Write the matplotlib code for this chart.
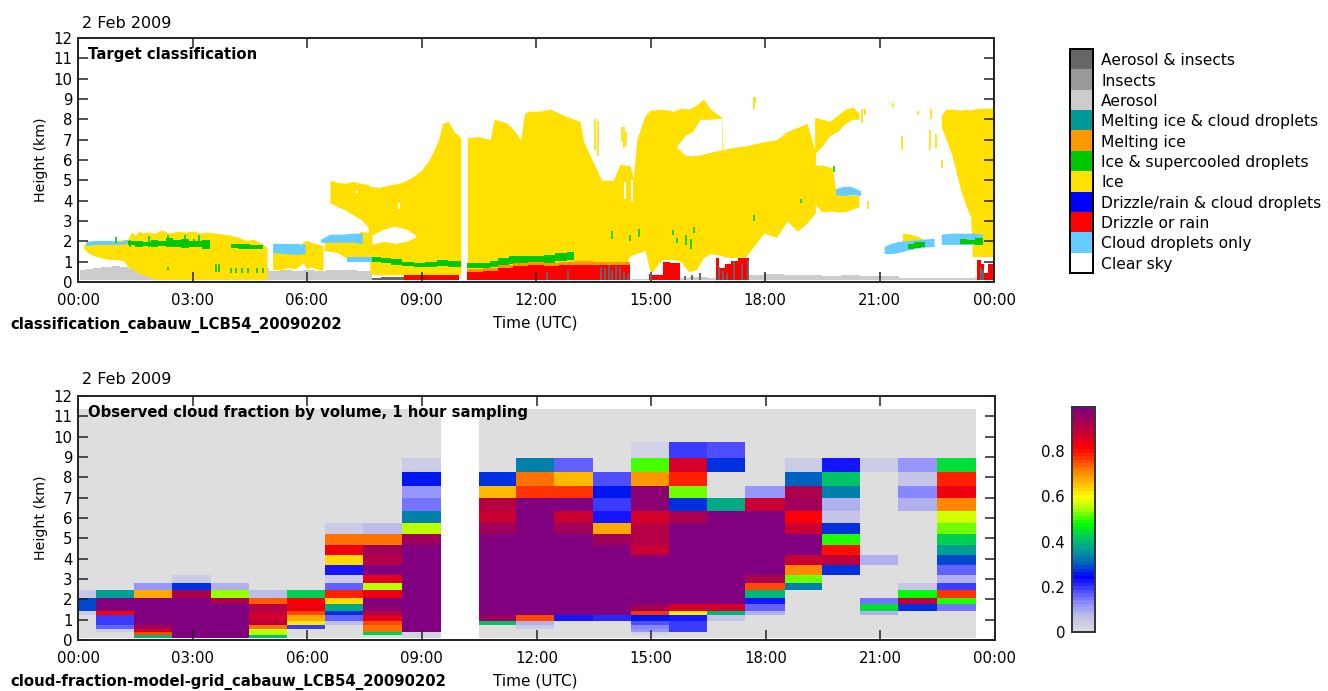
import numpy as np
import matplotlib
matplotlib.use('Agg')
import matplotlib.pyplot as plt
from matplotlib.colors import LinearSegmentedColormap, ListedColormap

plt.rcParams['font.family'] = ['DejaVu Sans']
plt.rcParams['font.size'] = 10.7

# ---- target classification, legend top to bottom
class_names = ['Aerosol & insects', 'Insects', 'Aerosol', 'Melting ice & cloud droplets',
               'Melting ice', 'Ice & supercooled droplets', 'Ice',
               'Drizzle/rain & cloud droplets', 'Drizzle or rain', 'Cloud droplets only', 'Clear sky']
class_colors = ['#666666', '#999999', '#cccccc', '#009999', '#ff9900', '#00c800', '#ffe000',
                '#0000ff', '#ff0000', '#66ccff', '#ffffff']
GREY_D, GREY_L, ORANGE, GREEN, ICE, RED, DROP = ('#666666', '#cccccc', '#ff9900', '#00c800',
                                                 '#ffe000', '#ff0000', '#66ccff')

aero1_t = [0.05, 0.2, 0.4, 0.6, 0.9, 1.1, 1.3, 5.0, 5.3, 5.6, 5.9, 6.2, 6.5, 6.9, 7.3, 7.7]
aero1_hi = [0.6, 0.65, 0.7, 0.75, 0.8, 0.75, 0.7, 0.55, 0.6, 0.55, 0.6, 0.55, 0.6, 0.6, 0.55, 0.5]
aero2_t = [14.5, 15.2, 15.6, 16.0, 16.5, 17.0, 17.5, 18.0, 18.5, 19.0, 19.5, 20.0, 20.5, 21.0, 21.5, 22.5, 23.5, 24.0]
aero2_hi = [0.15, 0.2, 0.2, 0.25, 0.2, 0.3, 0.35, 0.38, 0.33, 0.32, 0.3, 0.32, 0.28, 0.3, 0.2, 0.22, 0.25, 0.25]

ice_a_t = [0.15, 0.25, 0.4, 0.6, 0.8, 1.0, 1.2, 1.3, 1.4, 1.5, 1.6, 1.7, 1.8, 2.0, 2.2, 2.4, 2.6, 2.8, 3.0, 3.2, 3.4, 3.6, 3.8, 4.0, 4.2, 4.4, 4.6, 4.8, 4.95]
ice_a_lo = [1.65, 1.45, 1.3, 1.2, 1.1, 1.1, 1.05, 0.75, 0.7, 0.5, 0.45, 0.35, 0.3, 0.15, 0.12, 0.12, 0.12, 0.12, 0.12, 0.12, 0.12, 0.12, 0.12, 0.12, 0.12, 0.12, 0.12, 0.12, 0.12]
ice_a_hi = [1.85, 1.9, 1.95, 1.9, 1.95, 2.0, 2.1, 2.1, 2.45, 2.3, 2.5, 2.4, 2.45, 2.4, 2.55, 2.4, 2.5, 2.45, 2.5, 2.4, 2.45, 2.4, 2.35, 2.3, 2.2, 2.05, 2.1, 1.9, 1.7]
ice_b_t = [5.1, 5.3, 5.5, 5.7, 5.9, 6.0, 6.1, 6.3, 6.42]
ice_b_lo = [0.6, 0.6, 0.7, 0.65, 0.95, 0.65, 0.75, 0.6, 0.6]
ice_b_hi = [1.5, 1.45, 1.4, 1.35, 2.0, 2.05, 1.95, 1.85, 1.8]
ice_c_t = [6.45, 6.6, 6.8, 7.0, 7.2, 7.4, 7.65]
ice_c_lo = [1.55, 1.5, 1.45, 1.2, 1.25, 1.25, 1.25]
ice_c_hi = [2.05, 2.1, 2.0, 1.95, 2.1, 2.5, 2.4]
main1_t = [6.6, 6.8, 7.0, 7.2, 7.4, 7.6, 7.65, 7.9, 8.1, 8.4, 8.6, 8.8, 9.0, 9.2, 9.3, 9.45, 9.55, 9.7, 9.85, 10.03]
main1_lo = [3.9, 3.7, 3.55, 3.3, 3.1, 2.7, 0.4, 0.35, 0.35, 0.35, 0.35, 0.35, 0.35, 0.35, 0.35, 0.35, 0.35, 0.35, 0.35, 0.35]
main1_hi = [5.0, 4.9, 4.85, 4.95, 4.85, 4.8, 4.7, 4.65, 4.75, 4.85, 5.0, 5.2, 5.5, 6.0, 6.4, 7.0, 7.8, 7.9, 7.4, 7.1]
main2_t = [10.2, 10.5, 10.8, 10.9, 11.1, 11.25, 11.45, 11.6, 11.7, 11.84, 12.1, 12.37, 12.72, 13.0, 13.15, 13.25, 13.42, 13.72, 14.03, 14.2, 14.47, 14.55, 14.64, 14.86, 15.0, 15.3, 15.6, 15.8, 16.0, 16.2, 16.39, 16.57, 16.87, 16.9, 17.1, 17.5, 17.97, 18.3, 18.58, 18.85, 19.1, 19.32]
main2_hi = [7.1, 7.15, 7.0, 8.0, 7.9, 7.8, 7.4, 7.0, 8.3, 8.4, 8.4, 8.5, 8.2, 8.0, 7.9, 6.9, 6.2, 5.0, 5.0, 5.8, 5.7, 5.1, 7.0, 8.2, 8.45, 8.5, 8.4, 8.55, 8.5, 8.7, 9.0, 8.5, 8.1, 6.5, 6.6, 6.7, 6.9, 7.0, 7.4, 7.6, 7.8, 6.4]
main2_lo = [0.4, 0.4, 0.4, 0.4, 0.4, 0.4, 0.4, 0.4, 0.4, 0.4, 0.4, 0.4, 0.4, 0.4, 0.4, 0.4, 0.4, 0.4, 0.4, 0.4, 1.3, 1.35, 1.4, 1.55, 0.4, 1.1, 1.1, 1.0, 0.5, 0.6, 1.2, 1.4, 1.3, 1.25, 1.2, 1.25, 2.4, 2.2, 3.0, 2.5, 2.9, 3.4]
cavity_t = [15.7, 15.9, 16.1, 16.3, 16.5, 16.87]
cavity_lo = [6.6, 6.25, 6.2, 6.25, 6.35, 6.5]
cavity_hi = [6.7, 7.2, 7.4, 8.0, 8.0, 8.05]
hollow_t = [7.7, 8.0, 8.3, 8.6, 8.85]
hollow_lo = [1.85, 2.0, 1.9, 2.0, 2.2]
hollow_hi = [2.3, 2.6, 2.75, 2.6, 2.3]
arm_t = [19.3, 19.5, 19.7, 19.9, 20.1, 20.3, 20.46]
arm_lo = [6.3, 6.7, 7.2, 7.4, 7.8, 8.0, 8.0]
arm_hi = [8.1, 8.0, 7.9, 8.2, 8.5, 8.6, 8.3]
east_t = [19.32, 19.5, 19.77, 19.85, 20.1, 20.46]
east_lo = [3.8, 3.45, 3.5, 3.45, 3.45, 3.7]
east_hi = [5.75, 5.75, 5.6, 4.5, 4.3, 4.25]
last_t = [22.62, 22.75, 22.9, 23.13, 23.3, 23.39, 23.43, 23.75, 24.0]
last_lo = [7.6, 7.0, 6.2, 4.5, 3.6, 3.2, 1.25, 1.25, 1.25]
last_hi = [8.2, 8.5, 8.5, 8.45, 8.5, 8.45, 8.5, 8.55, 8.55]
ice_d_t = [21.6, 21.8, 22.0, 22.25]
ice_d_lo = [1.9, 1.9, 1.9, 2.0]
ice_d_hi = [2.4, 2.35, 2.25, 2.0]

# cloud droplets only
drop_a_t = [0.2, 0.5, 0.8, 1.1, 1.3]
drop_a_lo = [1.8, 1.85, 1.85, 1.85, 1.9]
drop_a_hi = [2.0, 2.05, 2.05, 2.0, 2.1]
drop_b_t = [5.1, 5.4, 5.7, 5.95]
drop_b_lo = [1.45, 1.4, 1.35, 1.4]
drop_b_hi = [1.9, 1.9, 1.9, 1.85]
drop_c_t = [6.35, 6.6, 6.9, 7.2, 7.4, 7.45]
drop_c_lo = [1.95, 1.95, 1.95, 1.95, 1.9, 1.9]
drop_c_hi = [2.1, 2.35, 2.35, 2.4, 2.4, 2.4]
drop_d_t = [7.05, 7.3, 7.7, 7.75]
drop_d_lo = [1.0, 1.0, 1.0, 1.0]
drop_d_hi = [1.25, 1.25, 1.25, 1.25]
drop_e_t = [19.85, 20.05, 20.25, 20.5]
drop_e_lo = [4.3, 4.25, 4.3, 4.25]
drop_e_hi = [4.6, 4.7, 4.7, 4.5]
drop_f_t = [21.12, 21.3, 21.5, 21.8, 22.1, 22.43]
drop_f_lo = [1.4, 1.4, 1.45, 1.6, 1.7, 1.75]
drop_f_hi = [1.75, 1.9, 2.0, 2.05, 2.1, 2.15]
drop_g_t = [22.62, 22.9, 23.2, 23.5, 23.7]
drop_g_lo = [1.85, 1.85, 1.85, 1.85, 1.85]
drop_g_hi = [2.35, 2.4, 2.4, 2.4, 2.35]

# ice & supercooled droplets
green_a_t = [1.3, 1.5, 1.7, 1.9, 2.1, 2.3, 2.5, 2.7, 2.9, 3.1, 3.25, 3.45, 4.0, 4.2, 4.5, 4.85]
green_a_lo = [1.8, 1.7, 1.75, 1.7, 1.75, 1.7, 1.7, 1.65, 1.7, 1.7, 1.6, 1.7, 1.65, 1.6, 1.6, 1.6]
green_a_hi = [2.0, 2.0, 1.95, 2.05, 2.0, 2.15, 2.05, 2.1, 2.0, 2.0, 2.05, 1.7, 1.85, 1.85, 1.8, 1.6]
green_b_t = [7.7, 7.95, 8.2, 8.5, 8.8, 9.1, 9.4, 9.7, 10.03]
green_b_lo = [1.0, 0.95, 0.85, 0.8, 0.75, 0.75, 0.8, 0.75, 0.7]
green_b_hi = [1.25, 1.2, 1.15, 1.0, 0.95, 1.0, 1.1, 1.05, 1.0]
green_c_t = [10.2, 10.5, 10.8, 11.0, 11.3, 11.6, 11.9, 12.2, 12.5, 12.8, 13.0]
green_c_lo = [0.7, 0.7, 0.75, 0.85, 0.9, 0.95, 0.95, 0.95, 1.05, 1.1, 1.1]
green_c_hi = [0.95, 0.95, 1.05, 1.2, 1.3, 1.3, 1.3, 1.35, 1.45, 1.5, 1.5]
green_d_t = [21.75, 21.9, 22.1, 22.2]
green_d_lo = [1.6, 1.65, 1.7, 1.7]
green_d_hi = [1.85, 1.95, 1.95, 1.9]
green_e_t = [23.1, 23.3, 23.5, 23.72]
green_e_lo = [1.85, 1.85, 1.8, 1.8]
green_e_hi = [2.1, 2.05, 2.15, 2.1]
green_streak_t = [1.35, 1.85, 2.35, 2.8, 3.05, 3.18, 3.7, 3.62, 2.35, 1.0, 4.0, 4.15, 4.3, 4.45, 4.7, 4.85, 14.0, 14.45, 14.7, 15.6, 15.7, 15.93, 16.05, 16.13, 17.7, 18.95, 19.8]
green_streak_lo = [1.7, 1.7, 1.7, 1.7, 1.7, 1.75, 0.5, 0.5, 0.6, 1.9, 0.45, 0.45, 0.45, 0.45, 0.45, 0.45, 2.1, 2.0, 2.2, 2.3, 1.9, 1.8, 1.6, 2.4, 3.0, 3.9, 5.4]
green_streak_hi = [2.05, 2.25, 2.3, 2.3, 2.1, 2.3, 0.9, 0.9, 0.75, 2.2, 0.7, 0.7, 0.7, 0.7, 0.7, 0.7, 2.5, 2.3, 2.6, 2.55, 2.15, 2.3, 2.1, 2.7, 3.3, 4.1, 5.7]

# drizzle or rain, melting ice above it
red_a_t = [8.55, 9.0, 9.4, 9.98]
red_a_hi = [0.33, 0.35, 0.33, 0.35]
red_b_t = [10.2, 10.6, 11.0, 11.4, 11.8, 12.2, 12.6, 13.0, 13.5, 14.0, 14.47]
red_b_hi = [0.5, 0.55, 0.7, 0.8, 0.85, 0.8, 0.85, 0.85, 0.85, 0.85, 0.85]
red_c_t = [14.95, 15.05, 15.34, 15.5, 15.78]
red_c_hi = [0.4, 0.35, 1.0, 0.95, 1.1]
red_d_t = [16.72, 16.8, 16.95, 17.1, 17.3, 17.58]
red_d_hi = [1.2, 0.7, 0.9, 1.05, 1.2, 1.2]
red_e_t = [23.55, 23.65, 23.75, 23.85, 24.0]
red_e_hi = [1.1, 0.9, 0.45, 0.9, 1.2]
orange_t = [10.2, 10.6, 11.0, 11.4, 11.8, 12.2, 12.6, 13.0, 13.5, 14.0, 14.47]
orange_hi = [0.65, 0.7, 0.85, 0.95, 1.0, 0.95, 1.0, 1.05, 1.0, 1.0, 1.0]
dark_t = [7.7, 7.95, 8.55]
dark_hi = [0.22, 0.25, 0.25]
dark_streak_t = [12.3, 12.85, 13.7, 13.8, 13.9, 14.0, 14.1, 14.2, 14.3, 14.4, 15.0, 15.9, 16.1, 16.3, 16.8, 16.9, 17.0, 17.2, 17.4, 17.55, 23.65, 23.7]
dark_streak_hi = [0.5, 0.6, 0.75, 0.7, 0.85, 0.6, 0.8, 0.75, 0.5, 0.4, 0.5, 0.3, 0.35, 0.45, 0.75, 0.55, 0.45, 1.05, 0.9, 1.1, 0.75, 0.6]

ice_streak_t = [13.05, 13.18, 13.55, 13.63, 14.25, 14.3, 14.35, 21.6, 22.32, 22.35, 22.48, 21.35, 22.0, 22.65, 20.55, 20.62, 17.7, 17.75, 20.7]
ice_streak_lo = [5.9, 6.2, 6.5, 6.2, 6.9, 6.6, 6.7, 6.5, 6.5, 8.0, 6.6, 8.6, 8.2, 5.6, 7.8, 8.2, 8.5, 8.8, 3.6]
ice_streak_hi = [7.8, 7.3, 8.0, 7.9, 7.6, 7.6, 7.4, 7.2, 7.5, 8.5, 7.3, 8.8, 8.4, 6.0, 8.5, 8.5, 9.1, 9.1, 4.0]
hole_t = [8.4, 14.32, 14.52, 7.3]
hole_lo = [3.6, 4.1, 4.0, 4.4]
hole_hi = [3.9, 4.9, 5.0, 4.5]

# observed cloud fraction by volume, one list per column, bottom row first
height_edges = [0.11, 0.25, 0.39, 0.52, 0.72, 0.93, 1.21, 1.42, 1.75, 2.05, 2.45, 2.81, 3.22,
                3.68, 4.17, 4.66, 5.22, 5.76, 6.33, 6.96, 7.56, 8.27, 8.95, 9.72, 10.55, 11.37]
time_edges = [0, 0.47, 1.47, 2.47, 3.47, 4.47, 5.47, 6.47, 7.47, 8.47, 9.5, 10.5, 11.47, 12.47,
              13.47, 14.47, 15.47, 16.47, 17.47, 18.5, 19.47, 20.47, 21.47, 22.47, 23.5]
P = 0.99
col00 = [0, 0, 0, 0, 0, 0, .04, .29, .29, .05]
col01 = [0, 0, .04, .17, .2, .2, .82, P, P, .37]
col02 = [.4, .76, .86, .95, P, P, P, P, P, .68, .12]
col03 = [P, P, P, P, P, P, P, P, P, .93, .28, .04]
col04 = [P, P, P, P, P, P, P, P, .93, .54, .09]
col05 = [.42, .55, .55, .72, .92, .87, .9, .92, .74, .07]
col06 = [0, 0, 0, .2, .62, .68, .75, .84, .82, .43]
col07 = [0, 0, 0, 0, .07, .17, .27, .38, .64, .79, .17, .04, .22, .63, .84, .72, .04]
col08 = [0, .43, .72, .72, .75, .85, .92, .97, P, .83, .55, .85, P, .92, .95, .72, .07]
col09 = [.03, .03, P, P, P, P, P, P, P, P, P, P, P, P, P, .95, .56, .34, .15, .12, .26, .04]
col10 = [np.nan] * 25
col11 = [0, 0, 0, 0, .41, .95, P, P, P, P, P, P, P, P, P, P, .95, .88, .92, .66, .28]
col12 = [0, 0, 0, .04, .09, .76, P, P, P, P, P, P, P, P, P, P, P, P, P, .78, .72, .34]
col13 = [0, 0, 0, 0, 0, .22, P, P, P, P, P, P, P, P, P, P, .94, .88, P, .77, .66, .17]
col14 = [0, 0, 0, 0, 0, .21, P, P, P, P, P, P, P, P, P, .94, .68, .22, .2, .25, .18]
col15 = [0, .03, .12, .14, .18, .26, .78, .95, P, P, P, P, P, P, .88, .92, .92, .87, .97, .97, .69, .5, .03]
col16 = [0, 0, .2, .19, .19, .22, .61, .87, P, P, P, P, P, P, P, P, P, .93, .27, .52, .79, .87, .2]
col17 = [0, 0, 0, 0, 0, .06, .4, .87, P, P, P, P, P, P, P, P, P, P, .38, 0, 0, .28, .18]
col18 = [0, 0, 0, 0, 0, 0, .09, .17, .22, .4, .75, .93, P, P, P, P, P, P, .89, .12]
col19 = [0, 0, 0, 0, 0, 0, 0, 0, 0, 0, .34, .52, .71, .88, P, P, .88, .82, .95, .93, .31, .04]
col20 = [0, 0, 0, 0, 0, 0, 0, 0, 0, 0, 0, 0, .28, .9, .8, .49, .28, .06, .09, .34, .42, .23]
col21 = [0, 0, 0, 0, 0, 0, .09, .44, .15, 0, 0, 0, 0, .08, 0, 0, 0, 0, 0, 0, 0, .04]
col22 = [0, 0, 0, 0, 0, 0, 0, .28, .9, .47, .06, 0, 0, 0, 0, 0, 0, 0, .09, .13, .06, .11]
col23 = [0, 0, 0, 0, 0, 0, 0, .15, .49, .77, .19, .09, .16, .29, .37, .43, .52, .57, .71, .83, .79, .45]
columns = [col00, col01, col02, col03, col04, col05, col06, col07, col08, col09, col10, col11,
           col12, col13, col14, col15, col16, col17, col18, col19, col20, col21, col22, col23]

hour_ticks = [0, 3, 6, 9, 12, 15, 18, 21, 24]
hour_labels = ['00:00', '03:00', '06:00', '09:00', '12:00', '15:00', '18:00', '21:00', '00:00']
km_ticks = list(range(0, 13))
cbar_ticks = [0, 0.2, 0.4, 0.6, 0.8]
cbar_labels = ['0', '0.2', '0.4', '0.6', '0.8']

stops = [(0, '#d8d8e2'), (.06, '#c0c0e8'), (.12, '#8f8fff'), (.2, '#3030ff'), (.24, '#0000ff'),
         (.3, '#0060c0'), (.36, '#009a98'), (.42, '#00c860'), (.48, '#00ff00'), (.55, '#b0ff00'),
         (.6, '#ffff00'), (.66, '#ffc000'), (.72, '#ff8000'), (.78, '#ff3000'), (.82, '#ff0000'),
         (.88, '#d00030'), (.94, '#a80050'), (1, '#800080')]
cf_cmap = LinearSegmentedColormap.from_list('cf', stops, N=64)
cf_cmap.set_under('#dedede')
cf_cmap.set_bad('white')

W, H = 1328, 691


def pos(x0, x1, ytop, ybot):
    return [x0 / W, 1 - ybot / H, (x1 - x0) / W, (ybot - ytop) / H]


def layer(ax, t, lo, hi, color, step=None):
    ax.fill_between(t, lo, hi, step=step, color=color, lw=0)


def dress(ax):
    ax.set_xlim(0, 24)
    ax.set_ylim(0, 12)
    ax.set_xticks(hour_ticks)
    ax.set_xticklabels(hour_labels)
    ax.set_yticks(km_ticks)
    ax.tick_params(direction='in', length=7, width=1.1, top=True, right=True, color='#222222')
    ax.tick_params(axis='x', pad=8)
    ax.tick_params(axis='y', pad=4)
    for s in ax.spines.values():
        s.set_linewidth(1.4)
        s.set_color('#222222')
    ax.set_ylabel('Height (km)', labelpad=4, fontsize=10.2)


fig = plt.figure(figsize=(W / 100, H / 100), dpi=100)

ax1 = fig.add_axes(pos(78, 994, 38, 282))
base = 0.11
layer(ax1, aero1_t, base, aero1_hi, GREY_L, 'post')
layer(ax1, aero2_t, base, aero2_hi, GREY_L, 'post')
for t, lo, hi in [(ice_a_t, ice_a_lo, ice_a_hi), (ice_b_t, ice_b_lo, ice_b_hi), (ice_c_t, ice_c_lo, ice_c_hi),
                  (main1_t, main1_lo, main1_hi), (main2_t, main2_lo, main2_hi), (arm_t, arm_lo, arm_hi),
                  (east_t, east_lo, east_hi), (last_t, last_lo, last_hi), (ice_d_t, ice_d_lo, ice_d_hi)]:
    layer(ax1, t, lo, hi, ICE)
layer(ax1, cavity_t, cavity_lo, cavity_hi, 'white')
layer(ax1, hollow_t, hollow_lo, hollow_hi, 'white')
ax1.vlines(hole_t, hole_lo, hole_hi, color='white', lw=1.5)
ax1.vlines(ice_streak_t, ice_streak_lo, ice_streak_hi, color=ICE, lw=1.2)
for t, lo, hi in [(drop_a_t, drop_a_lo, drop_a_hi), (drop_b_t, drop_b_lo, drop_b_hi), (drop_c_t, drop_c_lo, drop_c_hi),
                  (drop_d_t, drop_d_lo, drop_d_hi), (drop_e_t, drop_e_lo, drop_e_hi), (drop_f_t, drop_f_lo, drop_f_hi),
                  (drop_g_t, drop_g_lo, drop_g_hi)]:
    layer(ax1, t, lo, hi, DROP)
for t, lo, hi in [(green_a_t, green_a_lo, green_a_hi), (green_b_t, green_b_lo, green_b_hi), (green_c_t, green_c_lo, green_c_hi),
                  (green_d_t, green_d_lo, green_d_hi), (green_e_t, green_e_lo, green_e_hi)]:
    layer(ax1, t, lo, hi, GREEN, 'post')
ax1.vlines(green_streak_t, green_streak_lo, green_streak_hi, color=GREEN, lw=1.2)
layer(ax1, orange_t, 0.4, orange_hi, ORANGE, 'post')
for t, hi in [(red_a_t, red_a_hi), (red_b_t, red_b_hi), (red_c_t, red_c_hi), (red_d_t, red_d_hi), (red_e_t, red_e_hi)]:
    layer(ax1, t, base, hi, RED, 'post')
layer(ax1, dark_t, base, dark_hi, GREY_D, 'post')
ax1.vlines(dark_streak_t, base, dark_streak_hi, color=GREY_D, lw=1.4)
dress(ax1)

ax2 = fig.add_axes(pos(78, 995, 396, 640))
grid = np.full((25, 24), np.nan)
for j, col in enumerate(columns):
    if np.isnan(col[0]):
        continue
    vals = list(col) + [0] * (25 - len(col))
    grid[:, j] = [v if v > 0 else -1 for v in vals]
ax2.pcolormesh(time_edges, height_edges, np.ma.masked_invalid(grid), cmap=cf_cmap, vmin=0, vmax=1)
dress(ax2)

BOLD = 10.75
fig.text(82 / W, 1 - 23 / H, '2 Feb 2009', va='center', fontsize=11.5)
fig.text(82 / W, 1 - 380 / H, '2 Feb 2009', va='center', fontsize=11.5)
fig.text(88 / W, 1 - 55 / H, 'Target classification', fontweight='bold', fontsize=BOLD, va='center')
fig.text(88 / W, 1 - 413 / H, 'Observed cloud fraction by volume, 1 hour sampling', fontweight='bold', fontsize=BOLD, va='center')
fig.text(10 / W, 1 - 325 / H, 'classification_cabauw_LCB54_20090202', fontweight='bold', fontsize=BOLD, va='center')
fig.text(10 / W, 1 - 682 / H, 'cloud-fraction-model-grid_cabauw_LCB54_20090202', fontweight='bold', fontsize=BOLD, va='center')
fig.text(535 / W, 1 - 323 / H, 'Time (UTC)', ha='center', va='center', fontsize=11)
fig.text(535 / W, 1 - 681 / H, 'Time (UTC)', ha='center', va='center', fontsize=11)

# classification key
ax3 = fig.add_axes(pos(1070, 1093, 49, 273))
ax3.pcolormesh([0, 1], np.arange(12), np.arange(11)[::-1].reshape(-1, 1), cmap=ListedColormap(class_colors),
               vmin=0, vmax=10)
ax3.set_xticks([])
ax3.set_yticks(np.arange(11) + 0.5)
ax3.set_yticklabels(class_names[::-1], fontsize=11.2)
ax3.yaxis.tick_right()
ax3.tick_params(length=0, pad=6)
for s in ax3.spines.values():
    s.set_linewidth(1.4)

# cloud fraction colour bar
ax4 = fig.add_axes(pos(1072, 1095, 407, 632))
ax4.pcolormesh([0, 1], np.linspace(0, 0.995, 65), np.linspace(0, 1, 64).reshape(-1, 1), cmap=cf_cmap, vmin=0, vmax=1)
ax4.set_xticks([])
ax4.set_yticks(cbar_ticks)
ax4.set_yticklabels(cbar_labels)
ax4.tick_params(length=0, pad=5)
for s in ax4.spines.values():
    s.set_linewidth(1.4)
    s.set_color('#333333')

fig.savefig('out.png', dpi=100)
